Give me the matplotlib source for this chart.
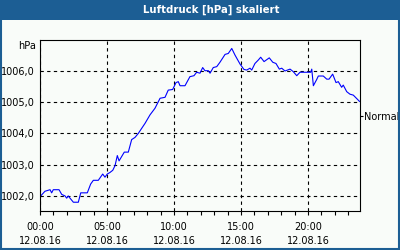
import matplotlib
matplotlib.use("Agg")
import matplotlib.pyplot as plt
from matplotlib.patches import Rectangle
from matplotlib.ticker import MultipleLocator, FuncFormatter

# Stunden seit 00:00 am 12.08.16 und Luftdruck (hPa, skaliert)
hours = [0.05, 0.37, 0.75, 0.87, 0.99, 1.42, 1.62, 1.87, 1.99, 2.11, 2.24, 2.49,
         2.86, 3.04, 3.53, 3.78, 3.98, 4.35, 4.68, 4.85, 5.02, 5.22, 5.43, 5.60,
         5.77, 5.90, 6.29, 6.59, 6.84, 7.09, 7.34, 7.59, 7.84, 8.21, 8.58, 8.96,
         9.33, 9.57, 9.90, 10.15, 10.32, 10.45, 10.82, 11.19, 11.49, 11.69, 11.94,
         12.14, 12.31, 12.56, 12.69, 12.93, 13.19, 13.43, 13.81, 14.05, 14.31,
         14.55, 14.93, 15.22, 15.43, 15.67, 15.80, 16.04, 16.29, 16.47, 16.72,
         17.11, 17.37, 17.61, 17.86, 18.04, 18.28, 18.66, 18.90, 19.16, 19.40,
         19.78, 20.20, 20.28, 20.40, 20.65, 20.77, 21.14, 21.40, 21.57, 21.84,
         22.09, 22.26, 22.51, 22.63, 22.89, 23.13, 23.38, 23.75, 23.84]
pressure = [1002.0, 1002.15, 1002.2, 1002.1, 1002.2, 1002.2, 1002.05, 1002.0,
            1001.93, 1002.0, 1001.93, 1001.8, 1001.8, 1002.1, 1002.1, 1002.38,
            1002.5, 1002.5, 1002.7, 1002.6, 1002.7, 1002.75, 1002.82, 1002.97,
            1003.29, 1003.12, 1003.4, 1003.4, 1003.8, 1003.87, 1004.0, 1004.16,
            1004.32, 1004.59, 1004.8, 1005.12, 1005.15, 1005.38, 1005.4, 1005.62,
            1005.65, 1005.52, 1005.52, 1005.81, 1005.84, 1005.95, 1005.92, 1006.1,
            1006.0, 1006.0, 1005.92, 1006.1, 1006.13, 1006.27, 1006.52, 1006.55,
            1006.71, 1006.5, 1006.21, 1006.04, 1006.02, 1006.08, 1006.02, 1006.23,
            1006.34, 1006.43, 1006.29, 1006.41, 1006.27, 1006.23, 1006.05, 1006.08,
            1005.99, 1006.05, 1005.97, 1005.84, 1005.95, 1005.95, 1005.95, 1006.05,
            1005.52, 1005.72, 1005.83, 1005.83, 1005.73, 1005.73, 1005.89, 1005.62,
            1005.65, 1005.47, 1005.54, 1005.33, 1005.25, 1005.22, 1005.06, 1005.02]

y_ticks = [1002, 1003, 1004, 1005, 1006]
x_ticks = [0, 5, 10, 15, 20]
x_labels = ["00:00\n12.08.16", "05:00\n12.08.16", "10:00\n12.08.16",
            "15:00\n12.08.16", "20:00\n12.08.16"]
normal_value = 1004.55

title_blue = "#1c5e94"
bg = "#f9fcf9"

plt.rcParams["font.family"] = "DejaVu Sans"
plt.rcParams["font.size"] = 7

fig = plt.figure(figsize=(4, 2.5), dpi=100, facecolor=bg)
ax = fig.add_axes([0.1, 0.156, 0.8, 0.684])
ax.set_facecolor(bg)

ax.plot(hours, pressure, color="#0000ff", linewidth=0.8)

ax.set_xlim(0, 23.88)
ax.set_ylim(1001.52, 1006.98)

ax.set_xticks(x_ticks)
ax.set_xticklabels(x_labels, linespacing=1.5)
ax.xaxis.set_minor_locator(MultipleLocator(1))
ax.tick_params(axis="x", which="both", length=3, width=0.8, pad=5, color="black")
ax.set_yticks(y_ticks)
ax.yaxis.set_major_formatter(FuncFormatter(lambda v, p: ("%.1f" % v).replace(".", ",")))
ax.tick_params(axis="y", length=0, pad=4)

ax.grid(True, which="major", color="black", linestyle=(0, (3, 3)), linewidth=0.8)
for s in ax.spines.values():
    s.set_linewidth(0.8)
    s.set_color("black")

# Normal marker on the right
ax2 = ax.twinx()
ax2.set_ylim(ax.get_ylim())
ax2.set_yticks([normal_value])
ax2.set_yticklabels(["Normal"])
ax2.tick_params(axis="y", length=2, width=0.8, pad=1)
for s in ax2.spines.values():
    s.set_visible(False)

fig.text(0.09, 0.816, "hPa", ha="right", va="center", fontsize=7)

# title bar and border
fig.patches.append(Rectangle((0, 0.92), 1, 0.08, transform=fig.transFigure,
                             facecolor=title_blue, edgecolor="none", zorder=-1))
fig.patches.append(Rectangle((0.002, 0.003), 0.996, 0.995, transform=fig.transFigure,
                             facecolor="none", edgecolor=title_blue, linewidth=1.5))
fig.text(0.528, 0.96, "Luftdruck [hPa] skaliert", ha="center", va="center",
         color="white", fontsize=7.3, fontweight="bold")

fig.savefig("out.png", dpi=100, facecolor=bg)
